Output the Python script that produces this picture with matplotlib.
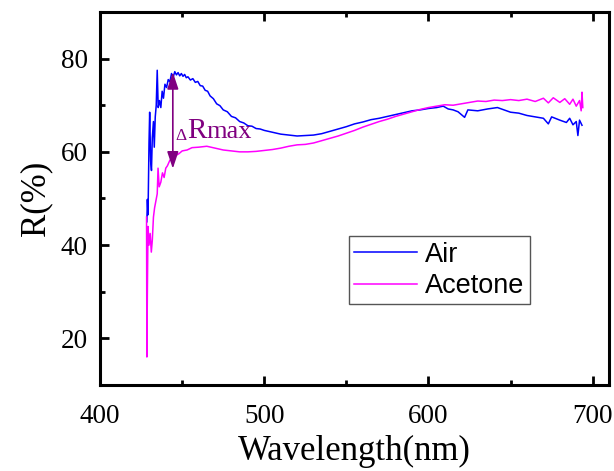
import matplotlib
matplotlib.use('Agg')
import matplotlib.pyplot as plt
from matplotlib.ticker import MultipleLocator

#%% Data

air_wl = [428.5, 428.8, 429.2, 429.8, 430.2, 430.8, 431.3, 431.8, 432.5, 433.0,
          433.6, 434.2, 434.8, 435.4, 436.2, 437.0, 437.8, 438.6, 439.5, 440.5,
          441.5, 442.5, 443.5, 444.5, 445.5, 446.5, 447.5, 448.5, 449.5, 450.5,
          451.5, 452.5, 453.5, 455.0, 456.5, 458.0, 459.5, 461.0, 462.5, 464.0,
          465.5, 467.0, 469.0, 471.0, 473.0, 475.0, 477.5, 480.0, 482.5, 485.0,
          487.5, 490.0, 492.5, 495.0, 497.5, 500.0, 505.0, 510.0, 515.0, 520.0,
          525.0, 530.0, 535.0, 540.0, 545.0, 550.0, 555.0, 560.0, 565.0, 570.0,
          575.0, 580.0, 585.0, 590.0, 595.0, 600.0, 605.0, 609.0, 612.0, 615.0,
          618.0, 622.0, 624.0, 630.0, 636.0, 642.0, 646.0, 650.0, 655.0, 660.0,
          665.0, 670.0, 673.0, 675.0, 680.0, 684.0, 686.0, 688.0, 690.0, 691.0,
          692.0, 693.5]
air_r = [45.0, 49.8, 46.5, 62.0, 68.5, 58.0, 56.0, 63.0, 66.5, 61.0,
         67.5, 70.0, 77.5, 69.5, 71.0, 69.5, 73.0, 71.5, 74.5, 73.8,
         75.5, 75.0, 76.8, 76.0, 77.2, 76.5, 77.0, 76.3, 76.8, 76.2,
         76.6, 75.9, 76.1, 75.4, 75.7, 74.9, 75.1, 74.2, 74.1, 73.2,
         73.0, 72.0, 71.4, 70.3, 69.9, 69.0, 68.6, 67.6, 67.3, 66.5,
         66.2, 65.6, 65.5, 65.0, 64.9, 64.6, 64.2, 63.8, 63.6, 63.4,
         63.5, 63.6, 63.9, 64.4, 64.9, 65.4, 66.0, 66.4, 66.9, 67.2,
         67.6, 68.0, 68.4, 68.8, 69.0, 69.3, 69.5, 69.8, 69.2, 69.0,
         68.6, 67.4, 69.0, 68.8, 69.2, 69.5, 69.0, 68.5, 68.3, 67.8,
         67.5, 67.2, 66.0, 67.5, 66.8, 66.3, 67.2, 65.8, 66.5, 63.5,
         66.8, 65.7]

acetone_wl = [428.3, 428.5, 428.8, 429.2, 429.8, 430.5, 431.2, 431.8, 432.5, 433.2,
              434.0, 434.8, 435.3, 436.0, 437.0, 438.0, 439.0, 440.0, 441.0, 442.5,
              444.0, 446.0, 448.0, 450.0, 453.0, 456.0, 460.0, 465.0, 470.0, 475.0,
              480.0, 485.0, 490.0, 495.0, 500.0, 505.0, 510.0, 515.0, 520.0, 525.0,
              530.0, 535.0, 540.0, 545.0, 550.0, 555.0, 560.0, 565.0, 570.0, 575.0,
              580.0, 585.0, 590.0, 595.0, 600.0, 605.0, 610.0, 615.0, 620.0, 625.0,
              630.0, 635.0, 640.0, 645.0, 650.0, 655.0, 660.0, 665.0, 670.0, 673.0,
              676.0, 680.0, 683.0, 686.0, 688.0, 690.0, 692.0, 693.0, 693.5, 694.0]
acetone_r = [46.0, 16.0, 30.0, 44.0, 40.0, 42.5, 38.5, 41.0, 46.0, 48.0,
             49.5, 51.0, 56.5, 52.5, 53.5, 55.5, 54.5, 56.5, 57.0, 58.2,
             58.5, 59.2, 59.6, 60.2, 60.4, 60.9, 61.0, 61.2, 60.8, 60.4,
             60.2, 60.0, 60.0, 60.1, 60.3, 60.5, 60.8, 61.2, 61.5, 61.6,
             61.9, 62.4, 62.9, 63.4, 64.0, 64.6, 65.3, 65.9, 66.5, 67.0,
             67.6, 68.1, 68.6, 69.1, 69.5, 69.8, 70.1, 70.0, 70.3, 70.6,
             70.9, 70.8, 71.1, 71.0, 71.2, 71.0, 71.3, 70.8, 71.5, 70.5,
             71.6, 70.6, 71.4, 70.2, 71.3, 69.8, 71.0, 68.8, 72.8, 69.5]

# double arrow marking the largest gap
arrow_wl = 444.3
arrow_top = 77.1
arrow_bottom = 56.4

#%% Plot
plt.rcParams['font.family'] = ['Liberation Serif', 'DejaVu Serif']
purple = '#800080'

fig = plt.figure(figsize=(6.14, 4.71), dpi=100)
ax = fig.add_axes([0.163, 0.1826, 0.829, 0.792])

ax.plot(air_wl, air_r, color='#0000ff', lw=1.1, label='Air')
ax.plot(acetone_wl, acetone_r, color='#ff00ff', lw=1.1, label='Acetone')

ax.annotate('', xy=(arrow_wl, arrow_top), xytext=(arrow_wl, arrow_bottom),
            arrowprops=dict(arrowstyle='<|-|>,head_length=0.6,head_width=0.2',
                            color=purple, lw=1.2, mutation_scale=17,
                            shrinkA=0, shrinkB=0))
t_delta = ax.text(445.8, 62.5, '\u0394', color=purple, fontsize=12.5, va='baseline')
t_r = ax.annotate('R', xy=(1, 0), xycoords=t_delta, xytext=(0.3, 0),
                  textcoords='offset points', color=purple, fontsize=21,
                  va='bottom', ha='left')
ax.annotate('max', xy=(1, 0), xycoords=t_r, xytext=(0, 0.8),
            textcoords='offset points', color=purple, fontsize=19,
            va='bottom', ha='left')

ax.set_xlim(400, 710)
ax.set_ylim(10, 90)
ax.xaxis.set_major_locator(MultipleLocator(100))
ax.xaxis.set_minor_locator(MultipleLocator(50))
ax.yaxis.set_minor_locator(MultipleLocator(10))
ax.set_yticks([20, 40, 60, 80])

ax.tick_params(which='both', direction='in', top=True, right=False, width=2.0)
ax.tick_params(which='major', length=6.5, labelsize=19.5)
ax.tick_params(axis='x', which='major', pad=14)
ax.tick_params(axis='y', which='major', pad=9)
ax.tick_params(which='minor', length=3.5)
for sp in ax.spines.values():
    sp.set_linewidth(2.2)

ax.set_xlabel('Wavelength(nm)', fontsize=25, labelpad=4)
ax.set_ylabel('R(%)', fontsize=25, labelpad=6)

leg = ax.legend(loc='upper left', bbox_to_anchor=(0.489, 0.399), borderaxespad=0,
                prop={'family': 'Liberation Sans', 'size': 19.5},
                handlelength=2.3, handletextpad=0.3, fancybox=False,
                framealpha=1, edgecolor='#555555', borderpad=0.2,
                labelspacing=0.2)
leg.get_frame().set_linewidth(1.0)

plt.savefig('out.png', dpi=100)
